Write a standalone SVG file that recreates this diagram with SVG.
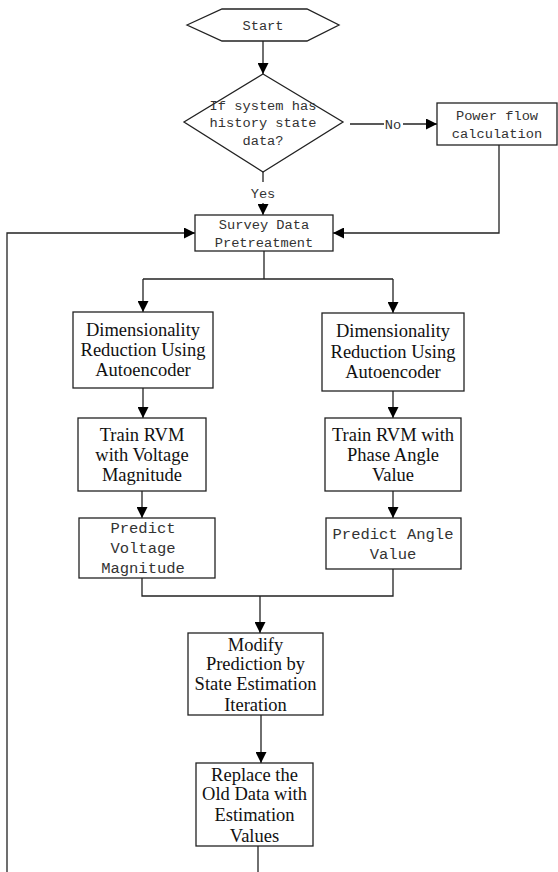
<svg xmlns="http://www.w3.org/2000/svg" width="558" height="872" viewBox="0 0 558 872">
  <defs>
    <marker id="arrow" markerUnits="userSpaceOnUse" markerWidth="11" markerHeight="11" refX="11" refY="5.5" orient="auto">
      <path d="M0,0 L11,5.5 L0,11 z" fill="#000"/>
    </marker>
    <style>
      .shape { fill: #fff; stroke: #222; stroke-width: 1.3; }
      .wire { fill: none; stroke: #222; stroke-width: 1.3; }
      .mono { font-family: "Liberation Mono", "DejaVu Sans Mono", monospace; font-size: 13.7px; fill: #333; text-anchor: middle; }
      .mono-lg { font-family: "Liberation Mono", "DejaVu Sans Mono", monospace; font-size: 15.5px; fill: #333; text-anchor: middle; }
      .serif { font-family: "Liberation Serif", "Times New Roman", serif; font-size: 18.5px; fill: #111; text-anchor: middle; }
    </style>
  </defs>

  <rect width="558" height="872" fill="#fff"/>

  <!-- connectors -->
  <g id="connectors">
    <path class="wire" d="M263,41 V74" marker-end="url(#arrow)"/>
    <path class="wire" d="M263,172 V182"/>
    <path class="wire" d="M263,203 V215" marker-end="url(#arrow)"/>
    <path class="wire" d="M350,124 H384"/>
    <path class="wire" d="M403,124 H437" marker-end="url(#arrow)"/>
    <path class="wire" d="M499,145 V233 H333" marker-end="url(#arrow)"/>
    <path class="wire" d="M7,872 V233 H195" marker-end="url(#arrow)"/>
    <path class="wire" d="M264,251 V279"/>
    <path class="wire" d="M143,279 H393"/>
    <path class="wire" d="M143,279 V312" marker-end="url(#arrow)"/>
    <path class="wire" d="M393,279 V313" marker-end="url(#arrow)"/>
    <path class="wire" d="M143,388 V418" marker-end="url(#arrow)"/>
    <path class="wire" d="M393,391 V418" marker-end="url(#arrow)"/>
    <path class="wire" d="M142,491 V518" marker-end="url(#arrow)"/>
    <path class="wire" d="M393,491 V518" marker-end="url(#arrow)"/>
    <path class="wire" d="M142,578 V596 H393 V569"/>
    <path class="wire" d="M260,596 V633" marker-end="url(#arrow)"/>
    <path class="wire" d="M261,715 V763" marker-end="url(#arrow)"/>
    <path class="wire" d="M258,846 V872"/>
    <text class="mono" x="263" y="198">Yes</text>
    <text class="mono" x="393" y="129">No</text>
  </g>

  <g id="start">
    <polygon class="shape" points="187,25 222,9 307,9 339,25 307,41 222,41"/>
    <text class="mono" x="263" y="30">Start</text>
  </g>

  <g id="has-history">
    <polygon class="shape" points="263,74 343,122 263,172 184,122"/>
    <text class="mono" x="263" y="110">If system has</text>
    <text class="mono" x="263" y="127">history state</text>
    <text class="mono" x="263" y="145">data?</text>
  </g>

  <g id="power-flow">
    <rect class="shape" x="437" y="103" width="120" height="42"/>
    <text class="mono" x="497" y="120">Power flow</text>
    <text class="mono" x="497" y="138">calculation</text>
  </g>

  <g id="pretreatment">
    <rect class="shape" x="195" y="215" width="138" height="36"/>
    <text class="mono" x="264" y="229">Survey Data</text>
    <text class="mono" x="264" y="247">Pretreatment</text>
  </g>

  <g id="autoencoder-left">
    <rect class="shape" x="73" y="312" width="140" height="76"/>
    <text class="serif" x="143" y="336">Dimensionality</text>
    <text class="serif" x="143" y="356">Reduction Using</text>
    <text class="serif" x="143" y="376">Autoencoder</text>
  </g>

  <g id="autoencoder-right">
    <rect class="shape" x="322" y="313" width="142" height="78"/>
    <text class="serif" x="393" y="337">Dimensionality</text>
    <text class="serif" x="393" y="358">Reduction Using</text>
    <text class="serif" x="393" y="378">Autoencoder</text>
  </g>

  <g id="train-voltage">
    <rect class="shape" x="78" y="418" width="128" height="73"/>
    <text class="serif" x="142" y="441">Train RVM</text>
    <text class="serif" x="142" y="461">with Voltage</text>
    <text class="serif" x="142" y="481">Magnitude</text>
  </g>

  <g id="train-angle">
    <rect class="shape" x="325" y="418" width="136" height="73"/>
    <text class="serif" x="393" y="441">Train RVM with</text>
    <text class="serif" x="393" y="461">Phase Angle</text>
    <text class="serif" x="393" y="481">Value</text>
  </g>

  <g id="predict-voltage">
    <rect class="shape" x="79" y="518" width="136" height="60"/>
    <text class="mono-lg" x="143" y="533">Predict</text>
    <text class="mono-lg" x="143" y="553">Voltage</text>
    <text class="mono-lg" x="143" y="573">Magnitude</text>
  </g>

  <g id="predict-angle">
    <rect class="shape" x="326" y="518" width="135" height="51"/>
    <text class="mono-lg" x="393" y="539">Predict Angle</text>
    <text class="mono-lg" x="393" y="559">Value</text>
  </g>

  <g id="modify">
    <rect class="shape" x="188" y="633" width="135" height="82"/>
    <text class="serif" x="255.5" y="651">Modify</text>
    <text class="serif" x="255.5" y="670">Prediction by</text>
    <text class="serif" x="255.5" y="690">State Estimation</text>
    <text class="serif" x="255.5" y="711">Iteration</text>
  </g>

  <g id="replace">
    <rect class="shape" x="196" y="763" width="117" height="83"/>
    <text class="serif" x="254.5" y="781">Replace the</text>
    <text class="serif" x="254.5" y="800">Old Data with</text>
    <text class="serif" x="254.5" y="821">Estimation</text>
    <text class="serif" x="254.5" y="842">Values</text>
  </g>
</svg>
